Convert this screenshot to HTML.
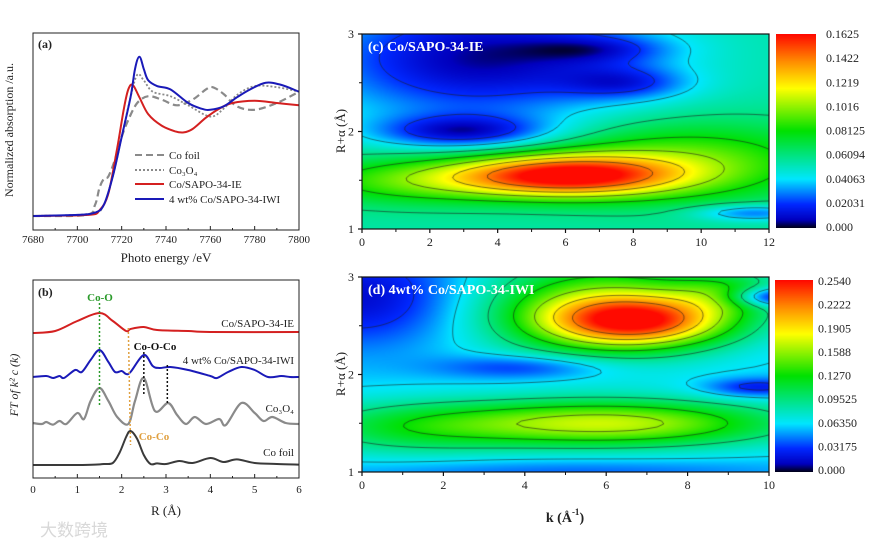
<!DOCTYPE html>
<html><head><meta charset="utf-8">
<style>
body{margin:0;background:#fff;}
#wrap{position:relative;width:880px;height:547px;overflow:hidden;background:#fff;font-family:"Liberation Serif",serif;}
canvas{position:absolute;}
svg{position:absolute;left:0;top:0;}
</style></head>
<body>
<div id="wrap">
<canvas id="cvC" width="407" height="195" style="left:362px;top:34px"></canvas>
<canvas id="cvD" width="407" height="195" style="left:362px;top:277px"></canvas>
<canvas id="cbC" width="40" height="194" style="left:776px;top:34px"></canvas>
<canvas id="cbD" width="38" height="192" style="left:775px;top:280px"></canvas>
<svg id="svg" width="880" height="547"></svg>
</div>
<script>
// ---------- Panel (a) XANES data ----------
const aFoilX=[7680,7704,7708,7710,7712,7714,7717,7720,7723,7727,7732,7738,7745,7752,7758,7761,7766,7772,7780,7790,7800];
const aFoilY=[0,0.01,0.1,0.25,0.33,0.35,0.5,0.7,0.85,1.0,1.06,1.03,0.98,1.03,1.12,1.14,1.08,0.97,0.94,1.0,1.1];
const aCo3X=[7680,7706,7712,7716,7720,7724,7727,7730,7734,7742,7750,7760,7766,7772,7780,7790,7800];
const aCo3Y=[0,0.02,0.1,0.35,0.7,1.05,1.25,1.2,1.1,1.06,0.98,0.88,0.95,1.07,1.15,1.14,1.1];
const aIEX=[7680,7705,7710,7714,7718,7721,7723,7725,7728,7732,7738,7744,7748,7752,7758,7764,7770,7780,7790,7800];
const aIEY=[0,0.01,0.05,0.2,0.6,0.95,1.12,1.16,1.05,0.9,0.8,0.75,0.74,0.77,0.87,0.95,1.0,1.02,1.0,0.98];
const aIWIX=[7680,7700,7708,7712,7716,7720,7724,7726,7728,7730,7732,7736,7742,7750,7756,7760,7766,7772,7778,7785,7792,7800];
const aIWIY=[0,0.01,0.03,0.1,0.35,0.7,1.05,1.3,1.41,1.3,1.2,1.15,1.12,1.0,0.95,0.94,0.97,1.05,1.12,1.18,1.16,1.1];
const aXTicks=[7680,7700,7720,7740,7760,7780,7800];
// ---------- Panel (b) FT-EXAFS data ----------
const bFoilR=[0,1,1.4,1.6,1.8,1.95,2.1,2.2,2.35,2.5,2.65,2.8,3.0,3.3,3.6,4.0,4.3,4.6,5.0,5.5,6];
const bFoilA=[0,0,0.02,0.05,0.1,0.6,1.4,1.7,1.3,0.5,0.05,0.08,0.05,0.2,0.1,0.35,0.15,0.28,0.1,0.05,0.02];
const bCo3R=[0,0.2,0.3,0.45,0.6,0.75,1.0,1.15,1.3,1.5,1.7,1.9,2.15,2.3,2.5,2.75,3.05,3.25,3.45,3.65,3.9,4.2,4.35,4.7,5.0,5.2,5.4,5.7,6];
const bCo3A=[0.1,0.05,0.15,0.02,0.2,0.05,0.6,0.3,1.2,1.85,1.2,0.4,0.05,1.2,2.35,0.7,1.1,0.5,0.05,0.4,0.05,0.3,0.0,1.1,0.6,0.2,0.4,0.1,0.05];
const bIWIR=[0,0.3,0.45,0.6,0.7,0.95,1.1,1.3,1.5,1.7,1.85,2.0,2.1,2.2,2.5,2.7,2.85,3.1,3.5,4.0,4.15,4.4,4.7,5.0,5.3,5.6,5.8,6];
const bIWIA=[0.05,0.1,0,0.1,0,0.4,0.3,0.9,1.4,0.8,0.3,0.35,0.2,0.3,1.15,0.6,0.5,0.55,0.4,0.1,0.0,0.3,0.55,0.4,0.05,0.1,0.05,0.05];
const bIER=[0,0.5,1.0,1.5,1.8,2.1,2.2,2.5,2.8,3.5,4,6];
const bIEA=[0,0.1,0.6,1.0,0.6,0.1,0.2,0.3,0.15,0.1,0.05,0.05];
const bOffsets=[0.65,2.65,5.0,7.25];
const bXTicks=[0,1,2,3,4,5,6];
// ---------- Panel (c)/(d) wavelet components ----------
const cBase=0.055, cMax=0.1625;
const cK=[6,9.5,1.5,3,3.5,7.8,11.5,7];
const cR=[1.55,1.7,1.5,2.0,2.75,2.5,1.17,2.85];
const cAmp=[0.1,0.04,0.035,-0.04,-0.05,-0.025,-0.03,-0.02];
const cSk=[2.3,3,2.5,1.8,3.5,1.3,1.2,1.5];
const cSr=[0.15,0.28,0.17,0.12,0.45,0.12,0.06,0.1];
const cTicks=["0.1625","0.1422","0.1219","0.1016","0.08125","0.06094","0.04063","0.02031","0.000"];
const dBase=0.06, dMax=0.254;
const dK=[6.8,5.8,6,1,4,9.7,0,10,9,5];
const dR=[2.55,2.7,1.5,1.45,2.08,1.87,2.8,2.8,2.85,1.0];
const dAmp=[0.14,0.09,0.11,0.04,-0.035,-0.04,-0.045,-0.07,0.05,-0.02];
const dSk=[1.6,2.0,3,2,1.5,0.9,1.8,0.7,1,4];
const dSr=[0.18,0.35,0.17,0.2,0.09,0.07,0.35,0.07,0.15,0.1];
const dTicks=["0.2540","0.2222","0.1905","0.1588","0.1270","0.09525","0.06350","0.03175","0.000"];

const NS="http://www.w3.org/2000/svg";
const svg=document.getElementById('svg');
function mk(tag,attrs,parent){const e=document.createElementNS(NS,tag);for(const k in attrs)e.setAttribute(k,attrs[k]);(parent||svg).appendChild(e);return e;}
function txt(x,y,s,attrs,parent){const t=mk('text',Object.assign({x:x,y:y,'font-family':'Liberation Serif, serif','font-size':12,fill:'#222'},attrs||{}),parent);t.textContent=s;return t;}
function lin(d0,d1,r0,r1){return v=>r0+(v-d0)*(r1-r0)/(d1-d0);}
function smoothPath(pts){let d='M'+pts[0][0].toFixed(1)+','+pts[0][1].toFixed(1);for(let i=0;i<pts.length-1;i++){const p0=pts[i-1]||pts[i],p1=pts[i],p2=pts[i+1],p3=pts[i+2]||p2;const c1=[p1[0]+(p2[0]-p0[0])/6,p1[1]+(p2[1]-p0[1])/6],c2=[p2[0]-(p3[0]-p1[0])/6,p2[1]-(p3[1]-p1[1])/6];d+=' C'+c1[0].toFixed(1)+','+c1[1].toFixed(1)+' '+c2[0].toFixed(1)+','+c2[1].toFixed(1)+' '+p2[0].toFixed(1)+','+p2[1].toFixed(1);}return d;}

// ===== Panel a =====
const ax=lin(7680,7800,33,299), ay=lin(0,1,216,103);
const ga=mk('g',{});


function addCurve(g,X,Y,fx,fy,off,style,name){const p=mk('path',Object.assign({d:smoothPath(X.map((x,i)=>[fx(x),fy(Y[i]+off)])),fill:'none'},style),g);return p;}
addCurve(ga,aFoilX,aFoilY,ax,ay,0,{stroke:'#8a8a8a','stroke-width':2.2,'stroke-dasharray':'7,4'},'co-foil-curve');
addCurve(ga,aCo3X,aCo3Y,ax,ay,0,{stroke:'#8a8a8a','stroke-width':1.8,'stroke-dasharray':'2,2'},'co3o4-curve');
addCurve(ga,aIEX,aIEY,ax,ay,0,{stroke:'#d42020','stroke-width':2},'co-sapo-ie-curve');
addCurve(ga,aIWIX,aIWIY,ax,ay,0,{stroke:'#1a1ab8','stroke-width':2},'co-sapo-iwi-curve');
mk('rect',{x:33,y:33,width:266,height:197,fill:'none',stroke:'#222','stroke-width':1},ga);
aXTicks.forEach(v=>{mk('line',{x1:ax(v),x2:ax(v),y1:230,y2:226,stroke:'#222'},ga);txt(ax(v),243,String(v),{'text-anchor':'middle','font-size':11},ga);});
for(let v=7690;v<7800;v+=20)mk('line',{x1:ax(v),x2:ax(v),y1:230,y2:228,stroke:'#222'},ga);
txt(38,48,'(a)',{'font-weight':'bold','font-size':12},ga);
txt(166,262,'Photo energy /eV',{'text-anchor':'middle','font-size':13},ga);
txt(0,0,'Normalized absorption /a.u.',{'text-anchor':'middle','font-size':12,transform:'translate(13,130) rotate(-90)'},ga);
const leg=[['Co foil','#8a8a8a','7,4',155],['Co\u2083O\u2084','#8a8a8a','2,2',170],['Co/SAPO-34-IE','#d42020','',184],['4 wt% Co/SAPO-34-IWI','#1a1ab8','',199]];
leg.forEach((l,i)=>{const g=mk('g',{},ga);
mk('line',{x1:135,x2:164,y1:l[3],y2:l[3],stroke:l[1],'stroke-width':2,'stroke-dasharray':l[2]},g);txt(169,l[3]+4,l[0],{'font-size':11},g);});

// ===== Panel b =====
const bx=lin(0,6,33,299), by=lin(0,1,478,458);
const gb=mk('g',{});


addCurve(gb,bFoilR,bFoilA,bx,by,bOffsets[0],{stroke:'#3a3a3a','stroke-width':2},'co-foil-ft');
addCurve(gb,bCo3R,bCo3A,bx,by,bOffsets[1],{stroke:'#8a8a8a','stroke-width':2.2},'co3o4-ft');
addCurve(gb,bIWIR,bIWIA,bx,by,bOffsets[2],{stroke:'#1a1ab8','stroke-width':2},'iwi-ft');
addCurve(gb,bIER,bIEA,bx,by,bOffsets[3],{stroke:'#d42020','stroke-width':2},'ie-ft');
mk('line',{x1:bx(1.5),x2:bx(1.5),y1:303,y2:405,stroke:'#2a9a2a','stroke-width':1.5,'stroke-dasharray':'2,2'},gb);
mk('line',{x1:bx(2.15),x2:bx(2.2),y1:328,y2:445,stroke:'#e0a040','stroke-width':1.5,'stroke-dasharray':'2,2'},gb);
mk('line',{x1:bx(2.5),x2:bx(2.5),y1:352,y2:396,stroke:'#111','stroke-width':1.5,'stroke-dasharray':'2,2'},gb);
mk('line',{x1:bx(3.03),x2:bx(3.03),y1:365,y2:404,stroke:'#111','stroke-width':1.5,'stroke-dasharray':'2,2'},gb);
txt(100,301,'Co-O',{'text-anchor':'middle','font-size':11,'font-weight':'bold',fill:'#2a9a2a'},gb);
txt(155,350,'Co-O-Co',{'text-anchor':'middle','font-size':11,'font-weight':'bold',fill:'#111'},gb);
txt(154,440,'Co-Co',{'text-anchor':'middle','font-size':11,'font-weight':'bold',fill:'#e0a040'},gb);
txt(294,327,'Co/SAPO-34-IE',{'text-anchor':'end','font-size':11},gb);
txt(294,364,'4 wt% Co/SAPO-34-IWI',{'text-anchor':'end','font-size':11},gb);
txt(294,412,'Co\u2083O\u2084',{'text-anchor':'end','font-size':11},gb);
txt(294,456,'Co foil',{'text-anchor':'end','font-size':11},gb);
mk('rect',{x:33,y:280,width:266,height:198,fill:'none',stroke:'#222','stroke-width':1},gb);
bXTicks.forEach(v=>{mk('line',{x1:bx(v),x2:bx(v),y1:478,y2:474,stroke:'#222'},gb);txt(bx(v),493,String(v),{'text-anchor':'middle','font-size':11},gb);});
for(let v=0.5;v<6;v+=1)mk('line',{x1:bx(v),x2:bx(v),y1:478,y2:476,stroke:'#222'},gb);
txt(38,296,'(b)',{'font-weight':'bold','font-size':12},gb);
txt(166,515,'R (\u00c5)',{'text-anchor':'middle','font-size':13},gb);
txt(0,0,'FT of k\u00b2 c (k)',{'text-anchor':'middle','font-size':12,'font-style':'italic',transform:'translate(18,385) rotate(-90)'},gb);
const wm=txt(40,536,'大数跨境',{'font-family':'Liberation Sans, Noto Sans CJK SC, sans-serif','font-size':17,fill:'#d8d8d8'});



// ===== Heatmaps =====
const stops=[[0,[0,0,30]],[0.04,[0,0,190]],[0.12,[0,40,255]],[0.25,[0,230,255]],[0.5,[0,225,0]],[0.72,[255,255,0]],[0.86,[255,140,0]],[1,[255,10,0]]];
function cmap(t){t=Math.max(0,Math.min(1,t));for(let i=1;i<stops.length;i++){if(t<=stops[i][0]){const a=stops[i-1],b=stops[i],f=(t-a[0])/(b[0]-a[0]);return a[1].map((c,j)=>Math.round(c+(b[1][j]-c)*f));}}return stops[stops.length-1][1];}
function field(base,K,R,A,SK,SR,k,r){let v=base;for(let i=0;i<K.length;i++){const dk=(k-K[i])/SK[i],dr=(r-R[i])/SR[i];v+=A[i]*Math.exp(-0.5*(dk*dk+dr*dr));}return v;}
function drawHeat(id,kmax,base,K,R,A,SK,SR,vmax){
  const cv=document.getElementById(id),ctx=cv.getContext('2d'),W=cv.width,H=cv.height;
  const img=ctx.createImageData(W,H);
  const fv=(px,py)=>Math.max(0,Math.min(vmax,field(base,K,R,A,SK,SR,px/W*kmax,3-py/H*2)));
  for(let y=0;y<H;y++)for(let x=0;x<W;x++){const c=cmap(fv(x,y)/vmax),o=(y*W+x)*4;img.data[o]=c[0];img.data[o+1]=c[1];img.data[o+2]=c[2];img.data[o+3]=255;}
  ctx.putImageData(img,0,0);
  ctx.strokeStyle='rgba(30,30,30,0.75)';ctx.lineWidth=0.8;
  const s=3,nx=Math.ceil(W/s),ny=Math.ceil(H/s),g=[];
  for(let j=0;j<=ny;j++){g[j]=[];for(let i=0;i<=nx;i++)g[j][i]=fv(i*s,j*s);}
  for(let L=1;L<8;L++){const lv=vmax*L/8;ctx.beginPath();
    for(let j=0;j<ny;j++)for(let i=0;i<nx;i++){
      const c=[[i*s,j*s,g[j][i]],[(i+1)*s,j*s,g[j][i+1]],[(i+1)*s,(j+1)*s,g[j+1][i+1]],[i*s,(j+1)*s,g[j+1][i]]],p=[];
      for(let e=0;e<4;e++){const a=c[e],b=c[(e+1)%4];if((a[2]<lv)!==(b[2]<lv)){const f=(lv-a[2])/(b[2]-a[2]);p.push([a[0]+(b[0]-a[0])*f,a[1]+(b[1]-a[1])*f]);}}
      for(let q=0;q+1<p.length;q+=2){ctx.moveTo(p[q][0],p[q][1]);ctx.lineTo(p[q+1][0],p[q+1][1]);}
    }ctx.stroke();}
}
drawHeat('cvC',12,cBase,cK,cR,cAmp,cSk,cSr,cMax);
drawHeat('cvD',10,dBase,dK,dR,dAmp,dSk,dSr,dMax);
function drawBar(id){const cv=document.getElementById(id),ctx=cv.getContext('2d');for(let y=0;y<cv.height;y++){const c=cmap(1-y/(cv.height-1));ctx.fillStyle='rgb('+c+')';ctx.fillRect(0,y,cv.width,1);}}
drawBar('cbC');drawBar('cbD');

function heatAxes(top,kmax,step,ticks,cbTop,cbH,cbX,title,name){
  const g=mk('g',{});
  const kx=lin(0,kmax,362,769), ry=lin(1,3,top+195,top);
  mk('rect',{x:362,y:top,width:407,height:195,fill:'none',stroke:'#111','stroke-width':1.2},g);
  for(let v=0;v<=kmax;v+=step){mk('line',{x1:kx(v),x2:kx(v),y1:top+195,y2:top+199,stroke:'#111','stroke-width':1.2},g);txt(kx(v),top+212,String(v),{'text-anchor':'middle','font-size':12},g);}
  for(let v=step/2;v<kmax;v+=step)mk('line',{x1:kx(v),x2:kx(v),y1:top+195,y2:top+198,stroke:'#111'},g);
  [1,2,3].forEach(v=>{mk('line',{x1:358,x2:362,y1:ry(v),y2:ry(v),stroke:'#111','stroke-width':1.2},g);txt(354,ry(v)+4,String(v),{'text-anchor':'end','font-size':12},g);});
  [1.5,2.5].forEach(v=>mk('line',{x1:359,x2:362,y1:ry(v),y2:ry(v),stroke:'#111'},g));
  txt(0,0,'R+\u03b1 (\u00c5)',{'text-anchor':'middle','font-size':13,transform:'translate(345,'+(top+97)+') rotate(-90)'},g);
  txt(368,top+17,title,{'font-size':14,'font-weight':'bold',fill:'#fff'},g);
  ticks.forEach((t,i)=>txt(cbX,cbTop+4+i*cbH/8,t,{'font-size':12},g));
}
heatAxes(34,12,2,cTicks,34,193,826,'(c) Co/SAPO-34-IE','panel-c');
heatAxes(277,10,2,dTicks,281,189,818,'(d) 4wt% Co/SAPO-34-IWI','panel-d');
const kl=txt(565,522,'',{'text-anchor':'middle','font-size':14,'font-weight':'bold'});


kl.innerHTML='k (\u00c5<tspan dy="-7" font-size="9">-1</tspan><tspan dy="7">)</tspan>';
</script>
</body></html>
